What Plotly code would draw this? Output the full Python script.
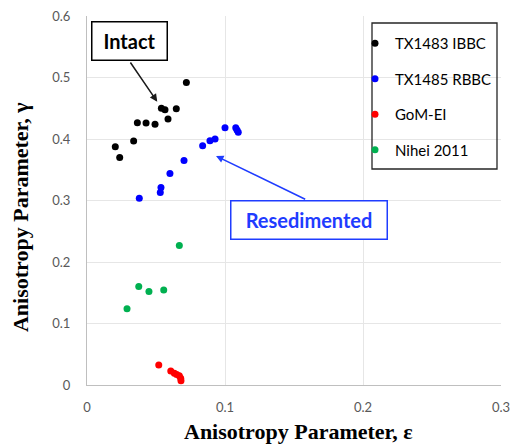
import plotly.graph_objects as go

# TX1483 IBBC (intact)
ibbc_eps = [0.0720, 0.0539, 0.0565, 0.0647, 0.0587, 0.0365, 0.0428, 0.0493, 0.0338, 0.0205, 0.0237]
ibbc_gam = [0.492, 0.450, 0.4477, 0.449, 0.4325, 0.4265, 0.426, 0.424, 0.3967, 0.3875, 0.370]

# TX1485 RBBC (resedimented)
rbbc_eps = [0.1000, 0.1078, 0.1087, 0.1096, 0.0928, 0.0891, 0.0838, 0.0703, 0.0601, 0.0536, 0.0531, 0.0379]
rbbc_gam = [0.4184, 0.4184, 0.4146, 0.4110, 0.400, 0.397, 0.389, 0.365, 0.344, 0.321, 0.313, 0.3035]

# GoM-EI
gom_eps = [0.0520, 0.0607, 0.0633, 0.0650, 0.0669, 0.0679, 0.0681]
gom_gam = [0.0327, 0.0228, 0.0190, 0.0170, 0.0151, 0.0109, 0.0070]

# Nihei 2011
nih_eps = [0.0669, 0.0375, 0.0449, 0.0556, 0.0290]
nih_gam = [0.227, 0.160, 0.152, 0.1545, 0.124]

series = [
    ("TX1483 IBBC", ibbc_eps, ibbc_gam, "#000000"),
    ("TX1485 RBBC", rbbc_eps, rbbc_gam, "#0000ff"),
    ("GoM-EI", gom_eps, gom_gam, "#ff0000"),
    ("Nihei 2011", nih_eps, nih_gam, "#00b050"),
]

fig = go.Figure()
for i, (name, xs, ys, col) in enumerate(series):
    fig.add_trace(go.Scatter(
        x=xs, y=ys, mode="markers", name=name, legendgroup=f"g{i}",
        marker=dict(color=col, size=7, line=dict(width=0)),
    ))

sans = "Lato"
serif = "Liberation Serif"
blue = "#1f3cff"

annotations = [
    # arrows
    dict(x=0.0509, y=0.4607, ax=0.0307, ay=0.5268, xref="x", yref="y", axref="x", ayref="y",
         text="", showarrow=True, arrowhead=2, arrowsize=1, arrowwidth=1.5, arrowcolor="#1a1a1a"),
    dict(x=0.0935, y=0.3724, ax=0.1592, ay=0.3008, xref="x", yref="y", axref="x", ayref="y",
         text="", showarrow=True, arrowhead=2, arrowsize=1, arrowwidth=1.5, arrowcolor=blue),
    # label boxes
    dict(x=0.0310, y=0.5600, xref="x", yref="y", text="<b>Intact</b>", showarrow=False,
         font=dict(family=sans, size=20, color="#000000"), width=72, height=35,
         bordercolor="#000000", borderwidth=1.5, bgcolor="white", xanchor="center", yanchor="middle"),
    dict(x=0.1607, y=0.2691, xref="x", yref="y", text="<b>Resedimented</b>", showarrow=False,
         font=dict(family=sans, size=20, color=blue), width=153, height=35,
         bordercolor=blue, borderwidth=1.5, bgcolor="white", xanchor="center", yanchor="middle"),
    # axis titles
    dict(x=0.511, y=-0.127, xref="paper", yref="paper", text="<b>Anisotropy Parameter, ε</b>",
         showarrow=False, font=dict(family=serif, size=22, color="#000000"),
         xanchor="center", yanchor="middle"),
    dict(x=-0.162, y=0.455, xref="paper", yref="paper", text="<b>Anisotropy Parameter, γ</b>",
         showarrow=False, textangle=-90, font=dict(family=serif, size=22, color="#000000"),
         xanchor="center", yanchor="middle"),
]

# page body adds an 8px offset, so margins are shifted by 8px
fig.update_layout(
    width=520, height=447,
    margin=dict(l=79, r=27, t=8, b=70, autoexpand=False),
    paper_bgcolor="white", plot_bgcolor="white",
    showlegend=True,
    legend=dict(
        x=(355 - 87) / 414, y=(385 - 27) / 369, xanchor="left", yanchor="top",
        font=dict(family=sans, size=15, color="#000000"),
        bgcolor="rgba(0,0,0,0)", borderwidth=0, tracegroupgap=13,
    ),
    annotations=annotations,
    shapes=[dict(type="rect", xref="paper", yref="paper",
                 x0=(372 - 87) / 414, x1=(497 - 87) / 414,
                 y0=(385 - 169) / 369, y1=(385 - 23) / 369,
                 line=dict(color="#262626", width=1.3), fillcolor="rgba(0,0,0,0)")],
)

fig.update_xaxes(
    range=[0, 0.3], dtick=0.1, tick0=0, showgrid=True, gridcolor="#e6e6e6", gridwidth=1,
    showline=True, linecolor="#bfbfbf", linewidth=1, zeroline=False, ticks="",
    automargin=False, ticklabeloverflow="allow",
    ticklabelstandoff=10, tickfont=dict(family=sans, size=13, color="#595959"),
)
fig.update_yaxes(
    range=[0, 0.6], dtick=0.1, tick0=0, showgrid=True, gridcolor="#e6e6e6", gridwidth=1,
    showline=True, linecolor="#bfbfbf", linewidth=1, zeroline=False, ticks="",
    automargin=False, ticklabeloverflow="allow",
    ticklabelstandoff=13, tickfont=dict(family=sans, size=13, color="#595959"),
)

fig.write_html("out.html")
